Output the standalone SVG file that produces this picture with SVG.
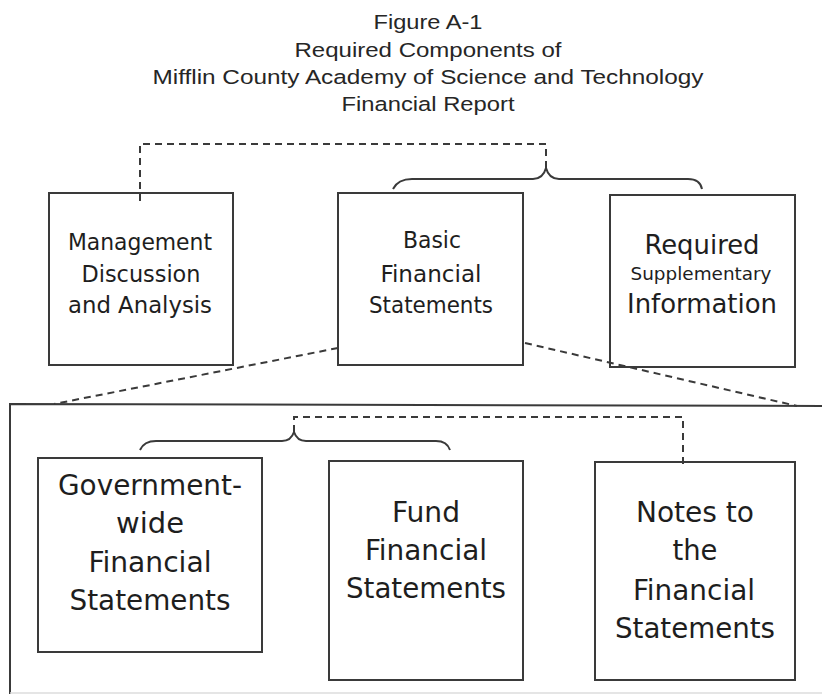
<svg xmlns="http://www.w3.org/2000/svg" width="822" height="694" viewBox="0 0 822 694">
<style>
.title{font-family:"Liberation Sans",Arial,sans-serif;font-size:20.5px;fill:#262626;text-anchor:middle}
.box{fill:none;stroke:#3a3a3a;stroke-width:2}
.t{font-family:"DejaVu Sans",Verdana,sans-serif;font-stretch:condensed;fill:#1e1e1e;text-anchor:middle}
.dash{fill:none;stroke:#3a3a3a;stroke-width:2;stroke-dasharray:7 5}
.brace{fill:none;stroke:#3a3a3a;stroke-width:2}
</style>
<rect width="822" height="694" fill="#fff"/>
<g id="title">
<text class="title" x="428" y="29" textLength="109" lengthAdjust="spacingAndGlyphs">Figure A-1</text>
<text class="title" x="428" y="57" textLength="267" lengthAdjust="spacingAndGlyphs">Required Components of</text>
<text class="title" x="428" y="84" textLength="551" lengthAdjust="spacingAndGlyphs">Mifflin County Academy of Science and Technology</text>
<text class="title" x="428" y="111" textLength="173" lengthAdjust="spacingAndGlyphs">Financial Report</text>
</g>
<g id="connectors">
<path class="dash" d="M140,201 V144 H546 V170"/>
<path class="brace" d="M393,189 Q398,179 412,179 H533 Q543,179 546,168 Q549,179 559,179 H688 Q700,179 702,189"/>
<path class="dash" d="M338,348 L54,404"/>
<path class="dash" d="M525,343 L797,406"/>
<path class="brace" d="M140,450 Q144,441 156,441 H282 Q291,441 294,432 Q297,441 306,441 H436 Q447,441 450,450"/>
<path class="dash" d="M294,432 V417 H683 V467"/>
</g>
<g id="report-box">
<path class="box" d="M10,694 V404 L822,406"/>
<line x1="10" y1="693" x2="822" y2="693" stroke="#ddd" stroke-width="1.5"/>
</g>
<g id="mda">
<rect class="box" x="49" y="193" width="184" height="172"/>
<text class="t" font-size="23.5" x="140" y="250" textLength="144" lengthAdjust="spacingAndGlyphs">Management</text>
<text class="t" font-size="23.5" x="141" y="282" textLength="119" lengthAdjust="spacingAndGlyphs">Discussion</text>
<text class="t" font-size="23.5" x="140" y="313" textLength="144" lengthAdjust="spacingAndGlyphs">and Analysis</text>
</g>
<g id="bfs">
<rect class="box" x="338" y="193" width="185" height="172"/>
<text class="t" font-size="23.5" x="432" y="248" textLength="58" lengthAdjust="spacingAndGlyphs">Basic</text>
<text class="t" font-size="23.5" x="431" y="282" textLength="101" lengthAdjust="spacingAndGlyphs">Financial</text>
<text class="t" font-size="23.5" x="431" y="313" textLength="124" lengthAdjust="spacingAndGlyphs">Statements</text>
</g>
<g id="rsi">
<rect class="box" x="610" y="195" width="185" height="172"/>
<text class="t" font-size="26.5" x="702" y="254" textLength="115" lengthAdjust="spacingAndGlyphs">Required</text>
<text class="t" font-size="17" x="701" y="280" textLength="141" lengthAdjust="spacingAndGlyphs">Supplementary</text>
<text class="t" font-size="26.5" x="702" y="313" textLength="150" lengthAdjust="spacingAndGlyphs">Information</text>
</g>
<g id="gwfs">
<rect class="box" x="38" y="458" width="224" height="194"/>
<text class="t" font-size="28.5" x="150" y="495" textLength="184" lengthAdjust="spacingAndGlyphs">Government-</text>
<text class="t" font-size="28.5" x="150" y="533" textLength="68" lengthAdjust="spacingAndGlyphs">wide</text>
<text class="t" font-size="28.5" x="150" y="572" textLength="123" lengthAdjust="spacingAndGlyphs">Financial</text>
<text class="t" font-size="28.5" x="150" y="610" textLength="161" lengthAdjust="spacingAndGlyphs">Statements</text>
</g>
<g id="ffs">
<rect class="box" x="329" y="461" width="194" height="219"/>
<text class="t" font-size="28.5" x="426" y="522" textLength="68" lengthAdjust="spacingAndGlyphs">Fund</text>
<text class="t" font-size="28.5" x="426" y="560" textLength="122" lengthAdjust="spacingAndGlyphs">Financial</text>
<text class="t" font-size="28.5" x="426" y="598" textLength="160" lengthAdjust="spacingAndGlyphs">Statements</text>
</g>
<g id="notes">
<rect class="box" x="595" y="462" width="200" height="218"/>
<text class="t" font-size="28.5" x="695" y="522" textLength="118" lengthAdjust="spacingAndGlyphs">Notes to</text>
<text class="t" font-size="28.5" x="695" y="560" textLength="45" lengthAdjust="spacingAndGlyphs">the</text>
<text class="t" font-size="28.5" x="694" y="600" textLength="122" lengthAdjust="spacingAndGlyphs">Financial</text>
<text class="t" font-size="28.5" x="695" y="638" textLength="160" lengthAdjust="spacingAndGlyphs">Statements</text>
</g>
</svg>
